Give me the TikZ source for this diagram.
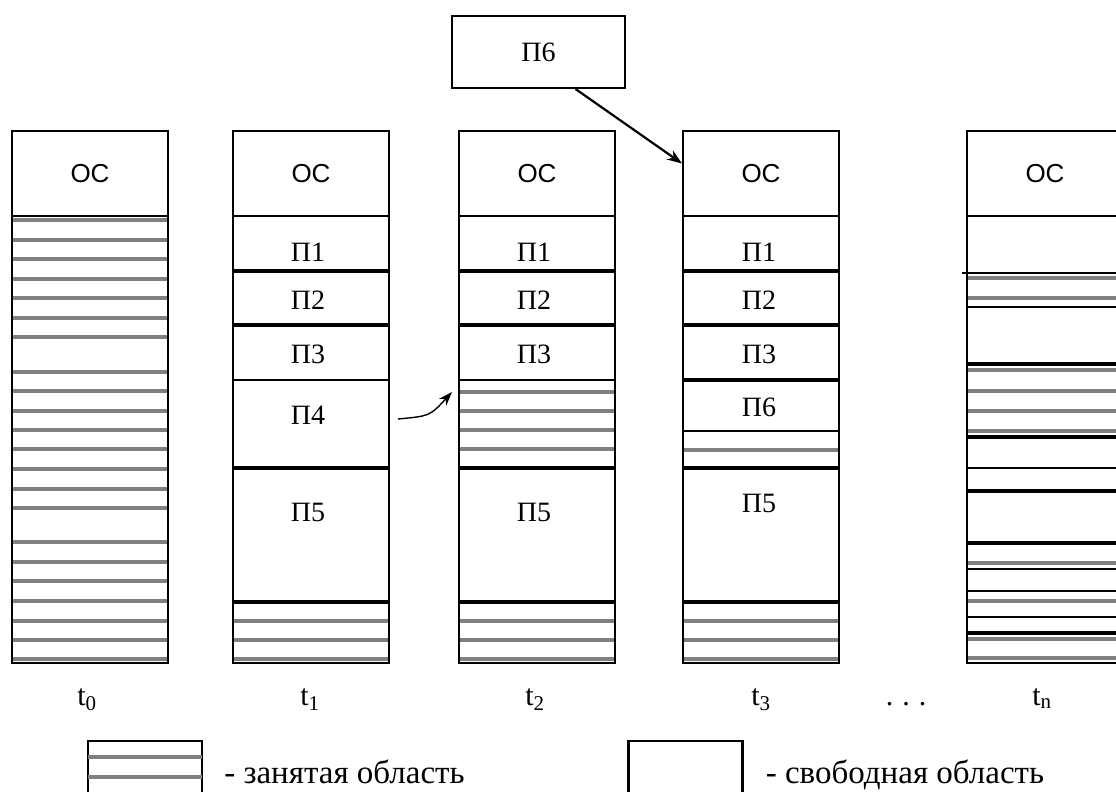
\documentclass[tikz,border=0pt]{standalone}
\usepackage{fontspec}
\setmainfont{Liberation Serif}
\newfontfamily\osfont{Liberation Sans}
\usepackage{tikz}
\usetikzlibrary{arrows.meta, positioning}
\tikzset{
  ostop/.style={rectangle, draw, line width=2pt, minimum width=156pt, minimum height=85pt, inner sep=0pt, font=\osfont\fontsize{26}{30}\selectfont},
  memcol/.style={draw, line width=2.2pt},
  thinsep/.style={line width=1.6pt},
  thicksep/.style={line width=3.4pt},
  busyline/.style={black!50, line width=3.4pt},
  proglabel/.style={inner sep=0pt, font=\fontsize{28}{32}\selectfont},
  timelabel/.style={anchor=base, inner sep=0pt, font=\fontsize{30}{34}\selectfont},
  progbox/.style={rectangle, draw, line width=2pt, minimum width=173pt, minimum height=72pt, inner sep=0pt, font=\fontsize{28}{32}\selectfont},
  keybox/.style={rectangle, draw, line width=2.2pt, minimum width=114pt, minimum height=68pt, inner sep=0pt},
  legendtext/.style={anchor=west, inner sep=0pt, text height=24pt, text depth=7pt, font=\fontsize{33}{36}\selectfont},
  arrow/.style={-{Stealth[length=15pt,width=11pt]}, line width=2.2pt},
  thinarrow/.style={-{Stealth[length=14pt,width=10pt]}, line width=1.4pt}
}
\begin{document}
\begin{tikzpicture}[x=1pt, y=-1pt]
  \useasboundingbox (0,0) rectangle (1116,792);
  \clip (0,0) rectangle (1116,792);

  \foreach \x/\n in {12/0,233/1,459/2,683/3,967/4} {
    \draw[memcol] (\x,131) rectangle (\x+156,663);
    \node[ostop] (os\n) at (\x+78,173.5) {ОС};
  }

  % t0
  \foreach \y in {220,240,259,279,298,318,337,372,391,411,430,449,469,489,508,542,562,581,601,621,640,659}
    \draw[busyline] (13,\y) -- (167,\y);

  % t1 - t3
  \foreach \x in {233,459,683} {
    \foreach \y in {271,325,468,602} \draw[thicksep] (\x,\y) -- (\x+156,\y);
    \foreach \y in {621,640,659} \draw[busyline] (\x+1,\y) -- (\x+155,\y);
  }
  \draw[thinsep] (233,380) -- (389,380);
  \draw[thinsep] (459,380) -- (615,380);
  \foreach \y in {392,411,430,449} \draw[busyline] (460,\y) -- (614,\y);
  \draw[thicksep] (683,380) -- (839,380);
  \draw[thinsep] (683,431) -- (839,431);
  \draw[busyline] (684,450) -- (838,450);

  % tn
  \draw[thinsep] (962,273) -- (1123,273);
  \foreach \y in {307,468,569,591,617} \draw[thinsep] (967,\y) -- (1123,\y);
  \foreach \y in {364,437,491,543,633} \draw[thicksep] (967,\y) -- (1123,\y);
  \foreach \y in {278,298,370,391,411,431,563,601,639,658} \draw[busyline] (968,\y) -- (1123,\y);

  \foreach \x/\n in {308/1,534/2,759/3} {
    \node[proglabel] (p1c\n) at (\x,252) {П1};
    \node[proglabel] (p2c\n) at (\x,300) {П2};
    \node[proglabel] (p3c\n) at (\x,354) {П3};
  }
  \node[proglabel] (p4c1) at (308,415) {П4};
  \node[proglabel] (p5c1) at (308,512) {П5};
  \node[proglabel] (p5c2) at (534,512) {П5};
  \node[proglabel] (p6c3) at (759,407) {П6};
  \node[proglabel] (p5c3) at (759,503) {П5};

  \foreach \x/\n in {87/0,310/1,535/2,761/3,1042/n}
    \node[timelabel] (t\n) at (\x,705) {t\textsubscript{\n}};
  \node[timelabel] (dots) at (906,705) {.\hspace{9pt}.\hspace{9pt}.};

  \node[progbox] (p6new) at (538.5,52) {П6};
  \draw[arrow] ([xshift=37pt]p6new.south) -- ([yshift=10pt]os3.west);

  \coordinate (mvfrom) at (398,419);
  \coordinate (mvto) at (452,392);
  \draw[thinarrow] (mvfrom) .. controls (430,416) .. (mvto);

  \node[keybox] (busykey) at (145,775) {};
  \draw[busyline] ([xshift=1pt,yshift=18pt]busykey.west) -- ([xshift=-1pt,yshift=18pt]busykey.east);
  \draw[busyline] ([xshift=1pt,yshift=-2pt]busykey.west) -- ([xshift=-1pt,yshift=-2pt]busykey.east);
  \node[legendtext, right=21pt of busykey] (busytxt) {- занятая область};
  \node[keybox] (freekey) at (685.5,775) {};
  \node[legendtext, right=22pt of freekey] (freetxt) {- свободная область};
\end{tikzpicture}
\end{document}
